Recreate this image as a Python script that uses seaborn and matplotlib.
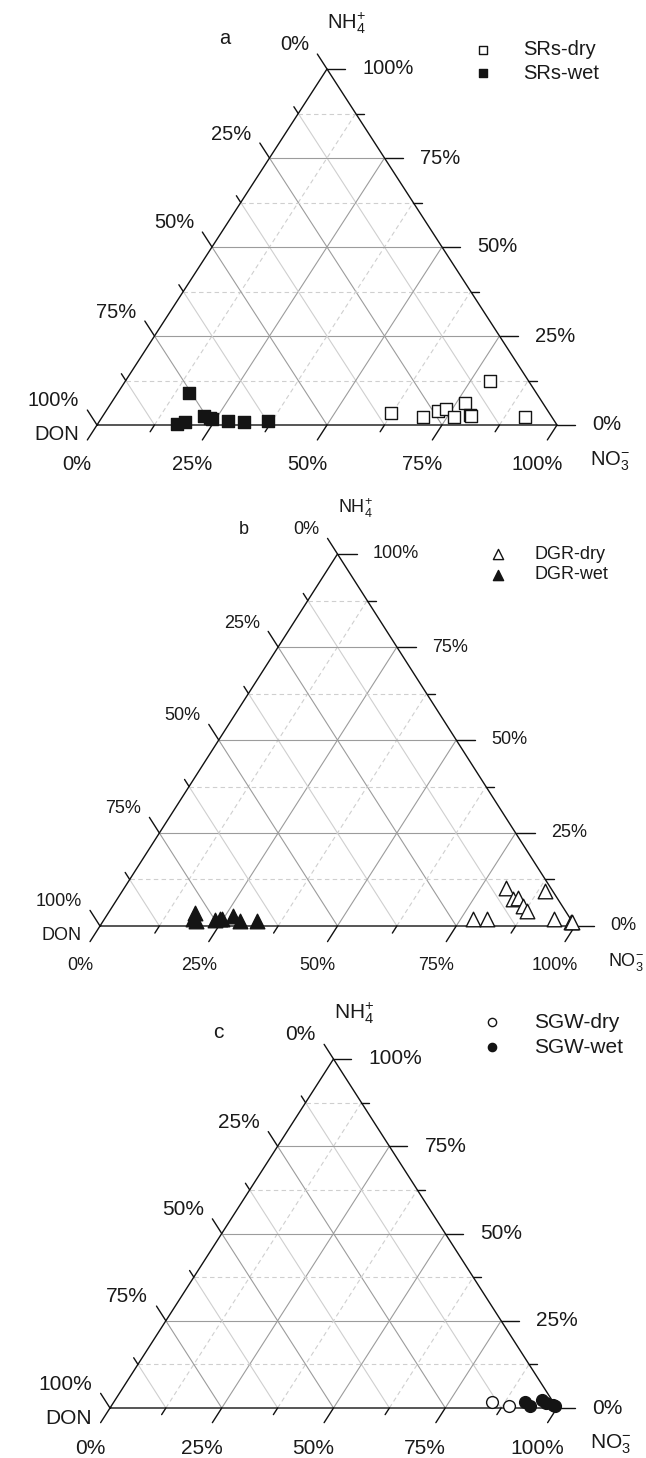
import numpy as np
import pandas as pd
import matplotlib
matplotlib.use("Agg")
import matplotlib.pyplot as plt
import seaborn as sns

# values in percent: NO3- (bottom axis) and NH4+ (right axis)
# DON is the rest (100 - NO3 - NH4)
srs_dry_no3 = [62.1, 69.7, 72.2, 73.7, 76.4, 77.0, 79.6, 79.9, 79.2, 91.9]
srs_dry_nh4 = [3.5, 2.3, 3.9, 4.5, 2.2, 6.2, 2.8, 2.6, 12.3, 2.2]
srs_wet_no3 = [17.3, 18.6, 15.6, 21.9, 23.6, 24.2, 27.8, 31.6, 36.6]
srs_wet_nh4 = [0.3, 0.9, 9.0, 2.6, 2.1, 1.6, 1.2, 0.9, 1.2]

dgr_dry_no3 = [80.4, 83.2, 84.3, 86.4, 87.9, 89.0, 77.5, 80.5, 94.6, 98.6, 98.9]
dgr_dry_nh4 = [10.2, 7.3, 7.5, 5.3, 4.0, 9.3, 2.0, 2.0, 2.0, 1.1, 1.1]
dgr_wet_no3 = [18.3, 18.7, 19.5, 23.4, 24.3, 24.8, 26.5, 28.8, 32.3]
dgr_wet_nh4 = [3.6, 1.8, 1.3, 1.6, 1.8, 1.8, 2.8, 1.3, 1.3]

sgw_dry_no3 = [84.5, 89.0]
sgw_dry_nh4 = [1.7, 0.5]
sgw_wet_no3 = [92.0, 93.8, 95.5, 96.9, 98.6, 99.2]
sgw_wet_nh4 = [1.7, 0.5, 2.2, 1.3, 1.0, 0.6]

tick_values = [0, 25, 50, 75, 100]
tick_labels = ['0%', '25%', '50%', '75%', '100%']

sns.set_style("white")
plt.rcParams['font.family'] = ['Liberation Sans', 'DejaVu Sans']
plt.rcParams['mathtext.fontset'] = 'custom'
plt.rcParams['mathtext.rm'] = 'Liberation Sans'
plt.rcParams['mathtext.it'] = 'Liberation Sans'
plt.rcParams['mathtext.default'] = 'regular'

W, H = 646, 1458
PT = 0.72  # points per pixel at dpi 100


def to_frame(no3, nh4):
    df = pd.DataFrame({'NO3': no3, 'NH4': nh4})
    df['DON'] = 100 - df['NO3'] - df['NH4']
    # ternary -> cartesian (x along NO3 axis, y = NH4 height)
    df['tx'] = df['NO3'] + df['NH4'] / 2
    df['ty'] = df['NH4']
    return df


def draw_ternary(ax, fs):
    ax.set_xlim(0, 100)
    ax.set_ylim(0, 100)
    ax.set_axis_off()
    dark, light = '#9c9c9c', '#cfcfcf'
    for v in np.arange(12.5, 100, 12.5):
        major = v % 25 == 0
        col = dark if major else light
        ls_dash = '-' if major else (0, (4, 3))
        # NH4 constant (horizontal)
        ax.plot([v / 2, 100 - v / 2], [v, v], color=col, lw=0.8, ls=ls_dash, zorder=1)
        # NO3 constant (parallel to left edge)
        ax.plot([v, v + (100 - v) / 2], [0, 100 - v], color=col, lw=0.8, ls=ls_dash, zorder=1)
        # DON constant (parallel to right edge)
        ax.plot([(100 - v) / 2, 100 - v], [100 - v, 0], color=col, lw=0.8, zorder=1)
    ax.plot([0, 100, 50, 0], [0, 0, 100, 0], color='#111111', lw=1.0, zorder=2, clip_on=False)

    kw = dict(color='#111111', lw=1.0, clip_on=False, zorder=2)
    for v in np.arange(0, 100.1, 12.5):
        major = v % 25 == 0
        t = 0.042 if major else 0.019
        lh = 4.0 if major else 1.8
        ax.plot([v, v - 50 * t], [0, -100 * t], **kw)                      # NO3 ticks
        ax.plot([100 - v / 2, 100 - v / 2 + lh], [v, v], **kw)            # NH4 ticks
        ax.plot([(100 - v) / 2, (100 - v) / 2 - 50 * t], [100 - v, 100 - v + 100 * t], **kw)  # DON ticks

    for v, lab in zip(tick_values, tick_labels):
        ax.annotate(lab, (v, 0), xytext=(-20 * PT, -40 * PT), textcoords='offset points',
                    ha='center', va='center', fontsize=fs, color='#1a1a1a', annotation_clip=False)
        ax.annotate(lab, (100 - v / 2, v), xytext=(35 * PT, 0), textcoords='offset points',
                    ha='left', va='center', fontsize=fs, color='#1a1a1a', annotation_clip=False)
        ax.annotate(lab, ((100 - v) / 2, 100 - v), xytext=(-18 * PT, 24 * PT), textcoords='offset points',
                    ha='right', va='center', fontsize=fs, color='#1a1a1a', annotation_clip=False)

    ax.annotate('DON', (0, 0), xytext=(-18 * PT, -10 * PT), textcoords='offset points',
                ha='right', va='center', fontsize=fs, color='#1a1a1a', annotation_clip=False)
    ax.annotate(r'NO$_3^{-}$', (100, 0), xytext=(33 * PT, -36 * PT), textcoords='offset points',
                ha='left', va='center', fontsize=fs, color='#1a1a1a', annotation_clip=False)
    ax.annotate(r'NH$_4^{+}$', (50, 100), xytext=(0, 46 * PT), textcoords='offset points',
                ha='left', va='center', fontsize=fs, color='#1a1a1a', annotation_clip=False)


panels = [
    # letter, geometry px (left, right, base, apex_y), letter offset px, legend px, groups
    ('a', (97, 557, 425, 69), (-102, 30), (483, 52, 28),
     [('SRs-dry', to_frame(srs_dry_no3, srs_dry_nh4), 's', 'white', 63),
      ('SRs-wet', to_frame(srs_wet_no3, srs_wet_nh4), 's', '#141414', 63)], 14.5),
    ('b', (100, 575, 926, 554), (-94, 24), (498, 557, 24),
     [('DGR-dry', to_frame(dgr_dry_no3, dgr_dry_nh4), '^', 'white', 110),
      ('DGR-wet', to_frame(dgr_wet_no3, dgr_wet_nh4), '^', '#141414', 110)], 13),
    ('c', (110, 557, 1408, 1059), (-115, 27), (492, 1025, 30),
     [('SGW-dry', to_frame(sgw_dry_no3, sgw_dry_nh4), 'o', 'white', 72),
      ('SGW-wet', to_frame(sgw_wet_no3, sgw_wet_nh4), 'o', '#141414', 72)], 15),
]

fig = plt.figure(figsize=(W / 100, H / 100), dpi=100)

for letter, (left, right, base, apex_y), (lox, loy), (lgx, lgy, lgsp), groups, fs in panels:
    ax = fig.add_axes([left / W, 1 - base / H, (right - left) / W, (base - apex_y) / H])
    draw_ternary(ax, fs)
    ax.annotate(letter, (50, 100), xytext=(lox * PT, loy * PT), textcoords='offset points',
                ha='center', va='center', fontsize=fs, color='#1a1a1a', annotation_clip=False)
    for name, df, mk, fc, size in groups:
        sns.scatterplot(data=df, x='tx', y='ty', marker=mk, s=size, color=fc,
                        edgecolor='#141414', linewidth=1.0, label=name, ax=ax,
                        zorder=4, clip_on=False)
    fs_px = fs / PT
    leg = ax.legend(loc='upper left',
                    bbox_to_anchor=((lgx - 0.5 * fs_px) / W, 1 - (lgy - 0.6 * fs_px) / H),
                    bbox_transform=fig.transFigure, frameon=False, fontsize=fs,
                    handlelength=1.0, handletextpad=1.5, borderpad=0, borderaxespad=0,
                    labelspacing=(lgsp - 1.15 * fs_px) / fs_px, markerscale=0.7)
    for txt in leg.get_texts():
        txt.set_color('#1a1a1a')

fig.savefig('out.png', dpi=100)
